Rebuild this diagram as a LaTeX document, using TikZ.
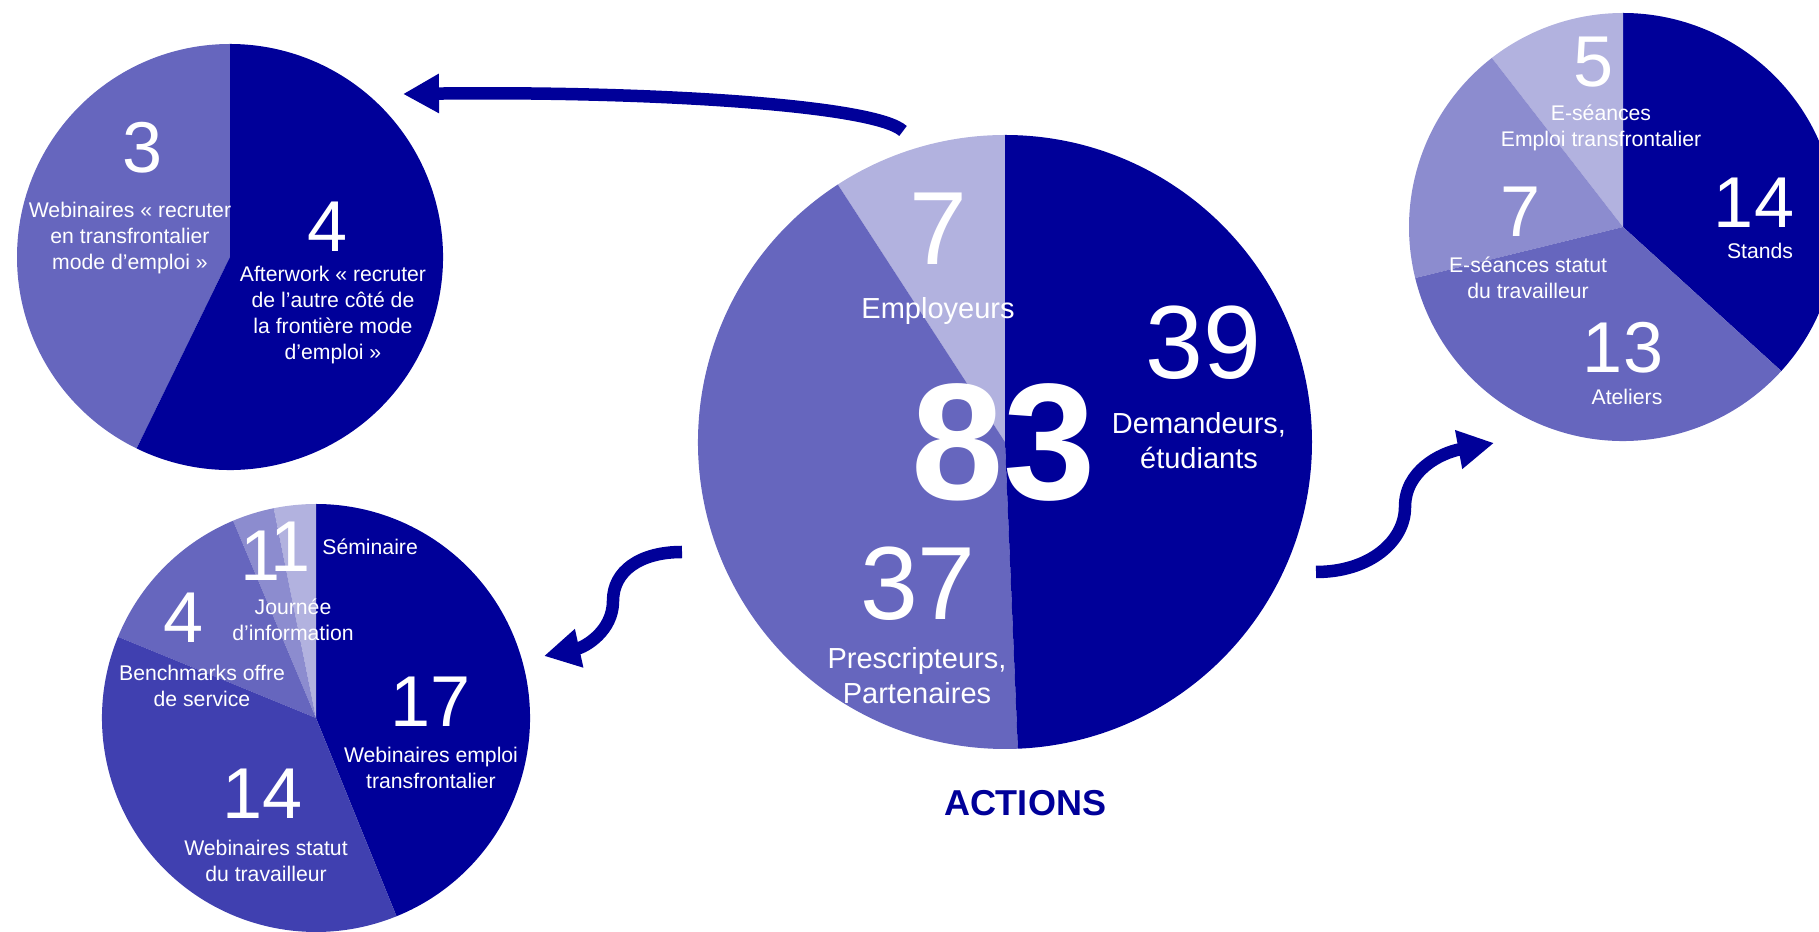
\documentclass[tikz,border=0pt]{standalone}
\usepackage{fontspec}
\setmainfont{Liberation Sans}
\usetikzlibrary{arrows.meta}
\definecolor{navy}{RGB}{0,0,153}
\definecolor{blueA}{RGB}{64,64,176}
\definecolor{blueB}{RGB}{102,102,190}
\definecolor{blueC}{RGB}{140,140,207}
\definecolor{blueD}{RGB}{178,178,223}

\begin{document}
\begin{tikzpicture}[x=0.5pt,y=0.5pt,
  num/.style={text=white,inner sep=0,font=\fontsize{36}{36}\selectfont},
  bignum/.style={text=white,inner sep=0,font=\fontsize{52}{52}\selectfont},
  lab/.style={text=white,inner sep=0,align=center,font=\fontsize{10.6}{13}\selectfont},
  biglab/.style={text=white,inner sep=0,align=center,font=\fontsize{14.5}{17.5}\selectfont},
  flow/.style={navy,line width=6.25pt,-{Triangle[length=18pt,width=18.5pt]}}]
\useasboundingbox (0,0) rectangle (1819,931);
\clip (0,0) rectangle (1819,931);
% centres of the pies
\coordinate (cTL) at (230,674);
\coordinate (cC) at (1005,489);
\coordinate (cR) at (1623,704);
\coordinate (cBL) at (316,213);
% top left pie
\fill[blueB] (cTL) -- +(90:213) arc[start angle=90,end angle=244,radius=213] -- cycle;
\fill[navy] (cTL) -- +(244:213) arc[start angle=244,end angle=450,radius=213] -- cycle;
\node[num] (tl3) at (143,783) {3};
\node[lab] (tlweb) at (130,693) {Webinaires « recruter\\en transfrontalier\\mode d’emploi »};
\node[num] (tl4) at (328,704) {4};
\node[lab] (tlafter) at (333,616) {Afterwork « recruter\\de l’autre côté de\\la frontière mode\\d’emploi »};
% centre pie
\fill[blueD] (cC) -- +(90:307) arc[start angle=90,end angle=123,radius=307] -- cycle;
\fill[blueB] (cC) -- +(123:307) arc[start angle=123,end angle=272.4,radius=307] -- cycle;
\fill[navy] (cC) -- +(272.4:307) arc[start angle=272.4,end angle=450,radius=307] -- cycle;
\node[bignum] (c7) at (938,702) {7};
\node[biglab,anchor=base] (cemp) at (938,612) {Employeurs};
\node[bignum] (c39) at (1203,588) {39};
\node[biglab] (cdem) at (1199,490) {Demandeurs,\\étudiants};
\node[bignum] (c37) at (918,347) {37};
\node[biglab] (cpre) at (917,255) {Prescripteurs,\\Partenaires};
\node[text=white,inner sep=0,font=\fontsize{83}{83}\selectfont\bfseries] (c83) at (1004,489) {83};
\node[navy,inner sep=0,font=\fontsize{18}{18}\selectfont\bfseries] (actions) at (1025,128) {ACTIONS};
% right pie
\fill[navy] (cR) -- +(-42.3:214) arc[start angle=-42.3,end angle=90,radius=214] -- cycle;
\fill[blueD] (cR) -- +(90:214) arc[start angle=90,end angle=127.8,radius=214] -- cycle;
\fill[blueC] (cR) -- +(127.8:214) arc[start angle=127.8,end angle=193.8,radius=214] -- cycle;
\fill[blueB] (cR) -- +(193.8:214) arc[start angle=193.8,end angle=317.7,radius=214] -- cycle;
\node[num] (r5) at (1593,869) {5};
\node[lab] (resea) at (1601,803) {E-séances\\Emploi transfrontalier};
\node[num] (r7) at (1520,719) {7};
\node[lab] (restat) at (1528,653) {E-séances statut\\du travailleur};
\node[num] (r14) at (1754,728) {14};
\node[lab] (rstands) at (1760,680) {Stands};
\node[num] (r13) at (1623,583) {13};
\node[lab] (rateliers) at (1627,534) {Ateliers};
% bottom left pie
\fill[navy] (cBL) -- +(-67.9:214) arc[start angle=-67.9,end angle=90,radius=214] -- cycle;
\fill[blueD] (cBL) -- +(90:214) arc[start angle=90,end angle=101.4,radius=214] -- cycle;
\fill[blueC] (cBL) -- +(101.4:214) arc[start angle=101.4,end angle=112.8,radius=214] -- cycle;
\fill[blueB] (cBL) -- +(112.8:214) arc[start angle=112.8,end angle=157.7,radius=214] -- cycle;
\fill[blueA] (cBL) -- +(157.7:214) arc[start angle=157.7,end angle=292.1,radius=214] -- cycle;
\node[lab,anchor=west] (bsem) at (322,384) {Séminaire};
\node[num] (b1a) at (261,375) {1};
\node[num] (b1b) at (291,384) {1};
\node[lab] (bjour) at (293,311) {Journée\\d’information};
\node[num] (b4) at (184,313) {4};
\node[lab] (bbench) at (202,245) {Benchmarks offre\\de service};
\node[num] (b17) at (431,229) {17};
\node[lab] (bwebemp) at (431,163) {Webinaires emploi\\transfrontalier};
\node[num] (b14) at (263,137) {14};
\node[lab] (bwebstat) at (266,70) {Webinaires statut\\du travailleur};
% arrows
\coordinate (fromTop) at (903,800);
\coordinate (toTL) at (403,837);
\coordinate (fromLeft) at (682,379);
\coordinate (toBL) at (544,275);
\coordinate (fromRight) at (1316,359);
\coordinate (toR) at (1494,488);
\draw[flow] (fromTop) .. controls (875,826) and (650,840) .. (toTL);
\draw[flow] (fromLeft) .. controls (640,379) and (613,360) .. (613,330) .. controls (613,300) and (585,284) .. (toBL);
\draw[flow] (fromRight) .. controls (1370,359) and (1405,390) .. (1405,424) .. controls (1405,460) and (1440,478) .. (toR);
\end{tikzpicture}
\end{document}
